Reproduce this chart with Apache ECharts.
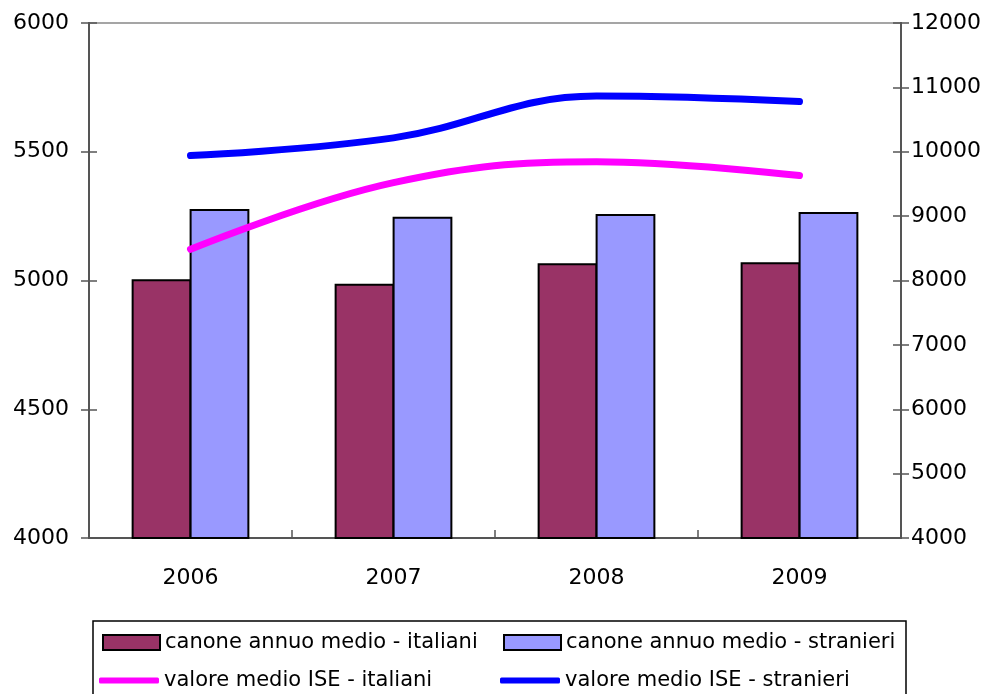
<!DOCTYPE html>
<html>
<head>
<meta charset="utf-8">
<script src="https://cdn.jsdelivr.net/npm/echarts@6/dist/echarts.min.js"></script>
<style>
  html, body { margin: 0; padding: 0; background: #fff; }
  #chart { width: 997px; height: 694px; }
</style>
</head>
<body>
<div id="chart"></div>
<script>
// data
const years = ['2006', '2007', '2008', '2009'];
const canoneItaliani = [5005, 4987, 5067, 5071];
const canoneStranieri = [5278, 5248, 5258, 5266];
const iseItaliani = [8485, 9520, 9845, 9630];
const iseStranieri = [9940, 10215, 10865, 10780];

const names = [
  'canone annuo medio - italiani',
  'canone annuo medio - stranieri',
  'valore medio ISE - italiani',
  'valore medio ISE - stranieri'
];

const font = 'DejaVu Sans';
const axisGray = '#555';
const plain = v => String(v);

const chart = echarts.init(document.getElementById('chart'));

const legendText = { fontFamily: font, fontSize: 21, color: '#000' };
const barLegend = (name, left) => ({
  data: [name], left: left, top: 632, icon: 'rect',
  itemWidth: 57, itemHeight: 15, itemGap: 0, padding: 0,
  textStyle: legendText, selectedMode: false
});
const lineLegend = (name, left) => ({
  data: [name], left: left, top: 670, icon: 'roundRect',
  itemWidth: 60, itemHeight: 6, itemGap: 0, padding: 0,
  textStyle: legendText, selectedMode: false
});

const tickStyle = { color: axisGray, width: 1.5 };
const lineStyleAxis = { color: axisGray, width: 2 };

chart.setOption({
  animation: false,
  backgroundColor: '#fff',
  grid: {
    left: 89, right: 96, top: 23, bottom: 156,
    show: true, borderColor: '#888', borderWidth: 1.5
  },
  graphic: [{
    type: 'rect',
    shape: { x: 93, y: 621, width: 813, height: 100 },
    style: { fill: 'none', stroke: '#000', lineWidth: 1.5 },
    z: 100
  }],
  legend: [
    barLegend(names[0], 102),
    barLegend(names[1], 503),
    lineLegend(names[2], 99),
    lineLegend(names[3], 500)
  ],
  xAxis: [{
    type: 'category', data: years,
    axisLine: { lineStyle: lineStyleAxis },
    axisTick: { length: 8, lineStyle: tickStyle },
    axisLabel: { fontFamily: font, fontSize: 22, color: '#000', margin: 29 },
    splitLine: { show: false }
  }, {
    type: 'category', data: years, position: 'bottom',
    axisLine: { show: true, lineStyle: lineStyleAxis },
    axisTick: { show: true, inside: true, length: 8, lineStyle: tickStyle },
    axisLabel: { show: false }
  }],
  yAxis: [{
    type: 'value', min: 4000, max: 6000, interval: 500, position: 'left',
    axisLine: { show: true, lineStyle: lineStyleAxis },
    axisTick: { show: true, length: 8, lineStyle: tickStyle },
    axisLabel: { fontFamily: font, fontSize: 22, color: '#000', margin: 20, formatter: plain },
    splitLine: { show: false }
  }, {
    type: 'value', min: 4000, max: 12000, interval: 1000, position: 'right',
    axisLine: { show: true, lineStyle: lineStyleAxis },
    axisTick: { show: true, length: 8, lineStyle: tickStyle },
    axisLabel: { fontFamily: font, fontSize: 22, color: '#000', margin: 10, formatter: plain },
    splitLine: { show: false }
  }, {
    type: 'value', min: 4000, max: 6000, interval: 500, position: 'left',
    axisLine: { show: true, lineStyle: lineStyleAxis },
    axisTick: { show: true, inside: true, length: 8, lineStyle: tickStyle },
    axisLabel: { show: false }, splitLine: { show: false }
  }, {
    type: 'value', min: 4000, max: 12000, interval: 1000, position: 'right',
    axisLine: { show: true, lineStyle: lineStyleAxis },
    axisTick: { show: true, inside: true, length: 8, lineStyle: tickStyle },
    axisLabel: { show: false }, splitLine: { show: false }
  }],
  series: [{
    name: names[0], type: 'bar', yAxisIndex: 0, data: canoneItaliani,
    barGap: '-3%', barCategoryGap: '42%',
    itemStyle: { color: '#993366', borderColor: '#000', borderWidth: 2 }
  }, {
    name: names[1], type: 'bar', yAxisIndex: 0, data: canoneStranieri,
    barGap: '-3%', barCategoryGap: '42%',
    itemStyle: { color: '#9999FF', borderColor: '#000', borderWidth: 2 }
  }, {
    name: names[2], type: 'line', yAxisIndex: 1, data: iseItaliani,
    smooth: 0.4, symbol: 'none', color: '#FF00FF',
    lineStyle: { color: '#FF00FF', width: 7, cap: 'round' }, z: 5
  }, {
    name: names[3], type: 'line', yAxisIndex: 1, data: iseStranieri,
    smooth: 0.4, symbol: 'none', color: '#0000FF',
    lineStyle: { color: '#0000FF', width: 7, cap: 'round' }, z: 5
  }]
});
</script>
</body>
</html>
